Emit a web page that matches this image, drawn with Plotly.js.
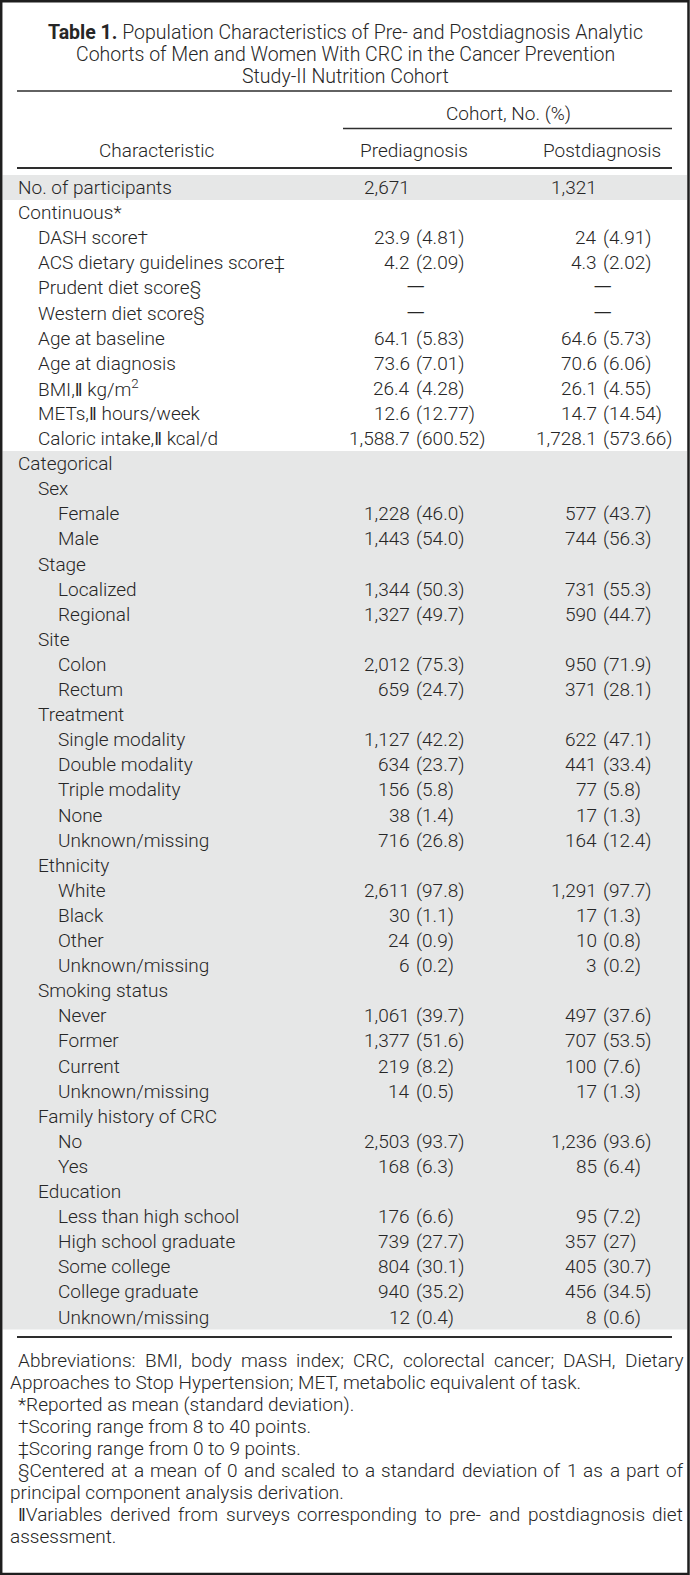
<!DOCTYPE html>
<html>
<head>
<meta charset="utf-8">
<script src="https://cdn.plot.ly/plotly-3.0.1.min.js"></script>
<style>html,body{margin:0;padding:0;background:#fff;}#chart{width:690px;height:1575px;}</style>
</head>
<body>
<div id="chart"></div>
<script>
// ---------- DATA ----------
const titleLines = [
  "<b>Table 1.</b> Population Characteristics of Pre- and Postdiagnosis Analytic",
  "Cohorts of Men and Women With CRC in the Cancer Prevention",
  "Study-II Nutrition Cohort"
];
const spannerLabel = "Cohort, No. (%)";
const columnHeaders = ["Characteristic", "Prediagnosis", "Postdiagnosis"];

const rowLabels = [
  "No. of participants", "Continuous*", "DASH score†", "ACS dietary guidelines score‡",
  "Prudent diet score§", "Western diet score§", "Age at baseline", "Age at diagnosis",
  "BMI,‖ kg/m<sup>2</sup>", "METs,‖ hours/week", "Caloric intake,‖ kcal/d",
  "Categorical", "Sex", "Female", "Male", "Stage", "Localized", "Regional",
  "Site", "Colon", "Rectum", "Treatment", "Single modality", "Double modality",
  "Triple modality", "None", "Unknown/missing", "Ethnicity", "White", "Black", "Other",
  "Unknown/missing", "Smoking status", "Never", "Former", "Current", "Unknown/missing",
  "Family history of CRC", "No", "Yes", "Education", "Less than high school",
  "High school graduate", "Some college", "College graduate", "Unknown/missing"
];
const rowLevels = [
  0, 0, 1, 1, 1, 1, 1, 1, 1, 1, 1,
  0, 1, 2, 2, 1, 2, 2, 1, 2, 2, 1, 2, 2, 2, 2, 2,
  1, 2, 2, 2, 2, 1, 2, 2, 2, 2, 1, 2, 2, 1, 2, 2, 2, 2, 2
];
const prediagnosis = [
  "2,671", "", "23.9 (4.81)", "4.2 (2.09)", "—", "—", "64.1 (5.83)", "73.6 (7.01)",
  "26.4 (4.28)", "12.6 (12.77)", "1,588.7 (600.52)",
  "", "", "1,228 (46.0)", "1,443 (54.0)", "", "1,344 (50.3)", "1,327 (49.7)",
  "", "2,012 (75.3)", "659 (24.7)", "", "1,127 (42.2)", "634 (23.7)", "156 (5.8)",
  "38 (1.4)", "716 (26.8)", "", "2,611 (97.8)", "30 (1.1)", "24 (0.9)", "6 (0.2)",
  "", "1,061 (39.7)", "1,377 (51.6)", "219 (8.2)", "14 (0.5)", "", "2,503 (93.7)",
  "168 (6.3)", "", "176 (6.6)", "739 (27.7)", "804 (30.1)", "940 (35.2)", "12 (0.4)"
];
const postdiagnosis = [
  "1,321", "", "24 (4.91)", "4.3 (2.02)", "—", "—", "64.6 (5.73)", "70.6 (6.06)",
  "26.1 (4.55)", "14.7 (14.54)", "1,728.1 (573.66)",
  "", "", "577 (43.7)", "744 (56.3)", "", "731 (55.3)", "590 (44.7)",
  "", "950 (71.9)", "371 (28.1)", "", "622 (47.1)", "441 (33.4)", "77 (5.8)",
  "17 (1.3)", "164 (12.4)", "", "1,291 (97.7)", "17 (1.3)", "10 (0.8)", "3 (0.2)",
  "", "497 (37.6)", "707 (53.5)", "100 (7.6)", "17 (1.3)", "", "1,236 (93.6)",
  "85 (6.4)", "", "95 (7.2)", "357 (27)", "405 (30.7)", "456 (34.5)", "8 (0.6)"
];
const shadedRowGroups = [[0, 0], [11, 45]];

const footnotes = [
  "Abbreviations: BMI, body mass index; CRC, colorectal cancer; DASH, Dietary",
  "Approaches to Stop Hypertension; MET, metabolic equivalent of task.",
  "*Reported as mean (standard deviation).",
  "†Scoring range from 8 to 40 points.",
  "‡Scoring range from 0 to 9 points.",
  "§Centered at a mean of 0 and scaled to a standard deviation of 1 as a part of",
  "principal component analysis derivation.",
  "‖Variables derived from surveys corresponding to pre- and postdiagnosis diet",
  "assessment."
];
const footnoteIndented = [true, false, true, true, true, true, false, true, false];
const footnoteJustified = [true, false, false, false, false, true, false, true, false];

// ---------- LAYOUT CONSTANTS ----------
const W = 690, H = 1575;
const FONT = "Roboto, 'Liberation Sans', Arial, sans-serif";
const TXT = "#262626";
const FS = 19;
const WEIGHT = 300;
const row0 = 187.5, pitch = 25.1;
const rowY = i => row0 + pitch * i;
const labelX0 = 17, indentStep = 20;
const parenX = [415, 602];      // left edge of "(" in each value column
const spaceW = 4.5;
const footRight = 682;

const annotations = [];
const shapes = [];
function txt(x, y, text, xanchor, size, extra) {
  annotations.push(Object.assign({
    x: x, y: y, xref: "x", yref: "y", text: text, showarrow: false,
    xanchor: xanchor, yanchor: "middle", align: xanchor === "center" ? "center" : xanchor,
    font: {family: FONT, size: size || FS, color: TXT, weight: WEIGHT}, borderpad: 0
  }, extra || {}));
}

// shaded bands
shadedRowGroups.forEach(g => {
  shapes.push({type: "rect", xref: "x", yref: "y", x0: 2.5, x1: 687,
    y0: rowY(g[0]) - pitch / 2, y1: rowY(g[1]) + pitch / 2,
    fillcolor: "#e6e7e7", line: {width: 0}, layer: "below"});
});

// title
titleLines.forEach((t, i) => txt(W / 2, 32 + 22 * i, t, "center", 19.5));

// rules
function rule(x0, x1, y, w) {
  shapes.push({type: "line", xref: "x", yref: "y", x0: x0, x1: x1, y0: y, y1: y,
    line: {color: "#2e2e2e", width: w}});
}
rule(17, 672, 91, 1.3);
rule(343, 672, 128.5, 1.3);
rule(17, 672, 168, 2);
rule(17, 672, 1337, 2);

// headers
txt(508, 113, spannerLabel, "center");
txt(157, 150, columnHeaders[0], "center");
txt(414, 150, columnHeaders[1], "center");
txt(602, 150, columnHeaders[2], "center");

// body rows
rowLabels.forEach((lab, i) => {
  const y = rowY(i);
  txt(labelX0 + indentStep * rowLevels[i], y, lab, "left");
  [prediagnosis[i], postdiagnosis[i]].forEach((v, c) => {
    if (!v) return;
    const px = parenX[c];
    if (v === "—") { txt(px, y, v, "center", 25); return; }
    const k = v.indexOf(" (");
    if (k < 0) { txt(px - spaceW, y, v, "right"); return; }
    txt(px - spaceW, y, v.slice(0, k), "right");
    txt(px, y, v.slice(k + 1), "left");
  });
});

// footnotes (justified where the paragraph continues)
const ctx = document.createElement("canvas").getContext("2d");
ctx.font = WEIGHT + " " + FS + "px Roboto, 'Liberation Sans', Arial, sans-serif";
footnotes.forEach((f, i) => {
  const x0 = footnoteIndented[i] ? 17 : 9;
  const y = 1360 + 22.1 * i;
  if (!footnoteJustified[i]) { txt(x0, y, f, "left", FS); return; }
  const words = f.split(" ");
  const widths = words.map(w => ctx.measureText(w).width);
  const total = widths.reduce((a, b) => a + b, 0);
  const gap = (footRight - x0 - total) / (words.length - 1);
  let x = x0;
  words.forEach((w, j) => { txt(x, y, w, "left", FS); x += widths[j] + gap; });
});

// outer frame
shapes.push({type: "rect", xref: "x", yref: "y", x0: 1.2, x1: 688.5, y0: 1.2, y1: 1574,
  line: {color: "#1e1e1e", width: 2.5}, fillcolor: "rgba(0,0,0,0)"});

const layout = {
  width: W, height: H,
  margin: {l: 0, r: 0, t: 0, b: 0, pad: 0},
  paper_bgcolor: "#fff", plot_bgcolor: "#fff",
  xaxis: {range: [0, W], visible: false, fixedrange: true},
  yaxis: {range: [H, 0], visible: false, fixedrange: true},
  showlegend: false,
  annotations: annotations,
  shapes: shapes
};
Plotly.newPlot("chart", [], layout, {staticPlot: true, displayModeBar: false});
</script>
</body>
</html>
